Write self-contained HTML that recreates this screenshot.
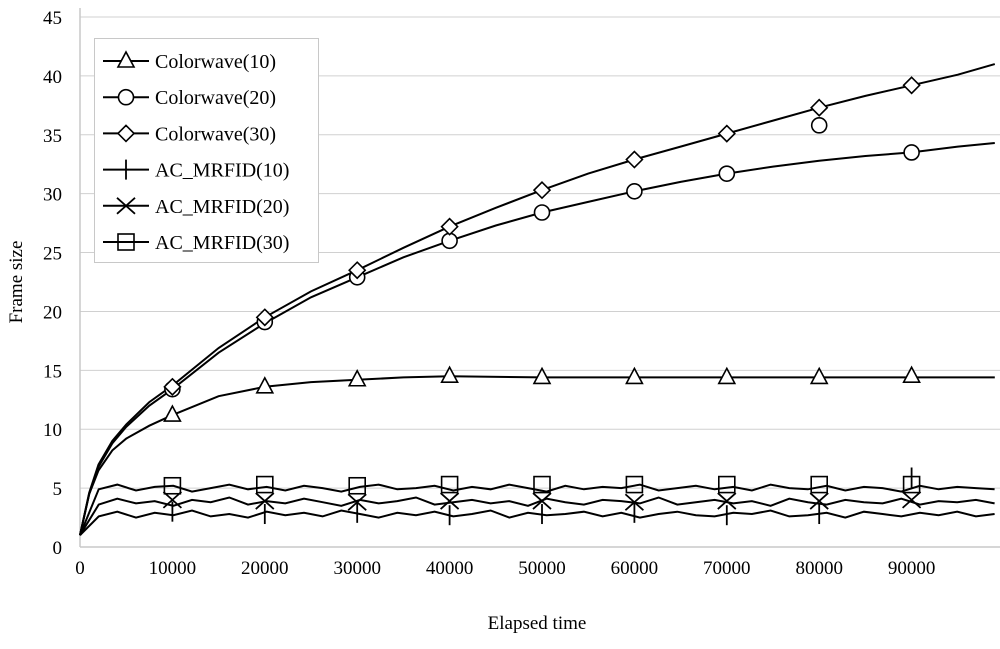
<!DOCTYPE html>
<html><head><meta charset="utf-8"><style>
body{margin:0;background:#fff}
svg text{font-family:"Liberation Serif",serif;fill:#000}
</style></head><body>
<svg id="chart" width="1000" height="644" viewBox="0 0 1000 644" xmlns="http://www.w3.org/2000/svg">
<g id="grid"></g>
<g id="axes"></g>
<g id="series"></g>
<text x="537" y="629" font-size="19" text-anchor="middle">Elapsed time</text>
<text transform="translate(22,282) rotate(-90)" font-size="19" text-anchor="middle">Frame size</text>
<g id="legend"></g>
</svg>
<script>
const xTicks=[0,10000,20000,30000,40000,50000,60000,70000,80000,90000];
const yTicks=[0,5,10,15,20,25,30,35,40,45];
const cw10X=[0,1000,2000,3500,5000,7500,10000,15000,20000,25000,30000,35000,40000,50000,60000,70000,80000,90000,99000];
const cw10Y=[1,4.5,6.5,8.2,9.2,10.3,11.2,12.8,13.6,14.0,14.2,14.4,14.5,14.4,14.4,14.4,14.4,14.4,14.4];
const cw20X=[0,1000,2000,3500,5000,7500,10000,15000,20000,25000,30000,35000,40000,45000,50000,55000,60000,65000,70000,75000,80000,85000,90000,95000,99000];
const cw20Y=[1,4.5,6.8,8.8,10.2,12,13.4,16.5,19,21.2,22.9,24.6,26,27.3,28.4,29.3,30.2,31,31.7,32.3,32.8,33.2,33.5,34,34.3];
const cw30X=[0,1000,2000,3500,5000,7500,10000,15000,20000,25000,30000,35000,40000,45000,50000,55000,60000,65000,70000,75000,80000,85000,90000,95000,99000];
const cw30Y=[1,4.6,7,9,10.4,12.3,13.7,16.9,19.5,21.7,23.5,25.4,27.2,28.8,30.3,31.7,32.9,34,35.1,36.2,37.3,38.3,39.2,40.1,41];
const cwMarkX=[10000,20000,30000,40000,50000,60000,70000,80000,90000];
const cw10Mark=[11.2,13.6,14.2,14.5,14.4,14.4,14.4,14.4,14.5];
const cw20Mark=[13.4,19.1,22.9,26,28.4,30.2,31.7,35.8,33.5];
const cw30Mark=[13.6,19.5,23.5,27.2,30.3,32.9,35.1,37.3,39.2];
const ac10Y=[1,2.6,3.0,2.5,2.9,2.7,3.1,2.6,2.8,2.5,3.0,2.7,2.9,2.6,3.1,2.8,2.5,2.9,2.7,3.0,2.6,2.8,3.1,2.5,2.9,2.7,2.8,3.0,2.6,2.9,2.5,2.8,3.0,2.7,2.6,2.9,2.8,3.1,2.6,2.7,2.9,2.5,3.0,2.8,2.6,2.9,2.7,3.0,2.6,2.8];
const ac20Y=[1,3.6,4.1,3.7,3.9,3.5,4.0,3.8,4.2,3.6,3.9,3.7,4.1,3.8,3.5,4.0,3.7,3.9,4.2,3.6,3.8,4.0,3.7,3.9,3.5,4.1,3.8,3.6,4.0,3.9,3.7,4.2,3.6,3.8,4.0,3.7,3.9,3.5,4.1,3.8,3.6,4.0,3.8,3.7,4.1,3.6,3.9,3.8,4.0,3.7];
const ac30Y=[1,4.9,5.3,4.8,5.1,5.2,4.7,5.0,5.3,4.9,5.1,4.8,5.2,5.0,4.7,5.1,5.3,4.9,5.0,5.2,4.8,5.1,4.9,5.3,5.0,4.7,5.2,4.9,5.1,5.0,5.3,4.8,5.0,5.2,4.9,5.1,4.8,5.3,5.0,4.9,5.2,4.8,5.1,5.0,4.7,5.2,4.9,5.1,5.0,4.9];
const acMarkX=[10000,20000,30000,40000,50000,60000,70000,80000,90000];
const ac10Mark=[3.0,2.8,2.9,2.7,2.8,2.9,2.7,2.8,5.9];
const ac20Mark=[4.0,3.9,3.8,3.9,3.9,3.8,3.9,3.9,4.0];
const ac30Mark=[5.2,5.3,5.2,5.3,5.3,5.3,5.3,5.3,5.3];

const X0=80,XS=92.4/10000,Y0=547,YS=530/45;
const sx=v=>X0+v*XS, sy=v=>Y0-v*YS;
const NS="http://www.w3.org/2000/svg";
function mk(tag,attrs,parent){const e=document.createElementNS(NS,tag);for(const k in attrs)e.setAttribute(k,attrs[k]);parent.appendChild(e);return e;}
const grid=document.getElementById('grid'),axes=document.getElementById('axes'),ser=document.getElementById('series'),leg=document.getElementById('legend');
yTicks.forEach(t=>{
  if(t>0){const l=mk('line',{x1:80,x2:1000,y1:sy(t),y2:sy(t),stroke:'#d0d0d0','stroke-width':1},grid);
  
  }
  const tx=mk('text',{x:62,y:sy(t)+7,'font-size':19,'text-anchor':'end'},axes);tx.textContent=t;
  
  
});
xTicks.forEach(t=>{
  const tx=mk('text',{x:sx(t),y:574,'font-size':19,'text-anchor':'middle'},axes);tx.textContent=t;
  
  
});
mk('line',{x1:80,x2:80,y1:8,y2:547,stroke:'#c8c8c8','stroke-width':1.5},axes);
mk('line',{x1:80,x2:1000,y1:547,y2:547,stroke:'#c8c8c8','stroke-width':1.5},axes);
function path(xs,ys,name){
  const d=xs.map((x,i)=>(i?'L':'M')+sx(x).toFixed(1)+','+sy(ys[i]).toFixed(1)).join('');
  const p=mk('path',{d:d,fill:'none',stroke:'#000','stroke-width':2},ser);
  
  
}
function marker(type,cx,cy,g){
  const s={fill:'#fff',stroke:'#000','stroke-width':1.6};
  if(type==='tri')mk('path',Object.assign({d:`M${cx},${cy-9}L${cx+8},${cy+6}L${cx-8},${cy+6}Z`},s),g);
  else if(type==='circ')mk('circle',Object.assign({cx:cx,cy:cy,r:7.5},s),g);
  else if(type==='dia')mk('path',Object.assign({d:`M${cx},${cy-8}L${cx+8},${cy}L${cx},${cy+8}L${cx-8},${cy}Z`},s),g);
  else if(type==='plus')mk('path',{d:`M${cx},${cy-10}V${cy+10}`,stroke:'#000','stroke-width':1.8},g);
  else if(type==='x')mk('path',{d:`M${cx-9},${cy-8}L${cx+9},${cy+8}M${cx+9},${cy-8}L${cx-9},${cy+8}`,stroke:'#000','stroke-width':1.8,fill:'none'},g);
  else if(type==='sq')mk('rect',Object.assign({x:cx-8,y:cy-8,width:16,height:16,fill:'none'},{stroke:'#000','stroke-width':1.6}),g);
}
function marks(type,xs,ys,name){
  xs.forEach((x,i)=>{const g=mk('g',{},ser);
    
    
    marker(type,sx(x),sy(ys[i]),g);});
}
const acX=ac10Y.map((_,i)=>i*2020);
path(cw10X,cw10Y,'colorwave-10-line');
path(cw20X,cw20Y,'colorwave-20-line');
path(cw30X,cw30Y,'colorwave-30-line');
path(acX,ac10Y,'ac-mrfid-10-line');
path(acX,ac20Y,'ac-mrfid-20-line');
path(acX,ac30Y,'ac-mrfid-30-line');
marks('tri',cwMarkX,cw10Mark,'colorwave-10-marker');
marks('circ',cwMarkX,cw20Mark,'colorwave-20-marker');
marks('dia',cwMarkX,cw30Mark,'colorwave-30-marker');
marks('plus',acMarkX,ac10Mark,'ac-mrfid-10-marker');
marks('x',acMarkX,ac20Mark,'ac-mrfid-20-marker');
marks('sq',acMarkX,ac30Mark,'ac-mrfid-30-marker');
mk('rect',{x:94.5,y:38.5,width:224,height:224,fill:'#fff',stroke:'#c8c8c8','stroke-width':1},leg);
const names=['Colorwave(10)','Colorwave(20)','Colorwave(30)','AC_MRFID(10)','AC_MRFID(20)','AC_MRFID(30)'];
const types=['tri','circ','dia','plus','x','sq'];
names.forEach((n,i)=>{
  const y=61+i*36.2;
  const g=mk('g',{},leg);
  
  
  mk('line',{x1:103,x2:149,y1:y,y2:y,stroke:'#000','stroke-width':2},g);
  marker(types[i],126,y,g);
  const t=mk('text',{x:155,y:y+7,'font-size':20},g);t.textContent=n;
});
</script>
</body></html>
